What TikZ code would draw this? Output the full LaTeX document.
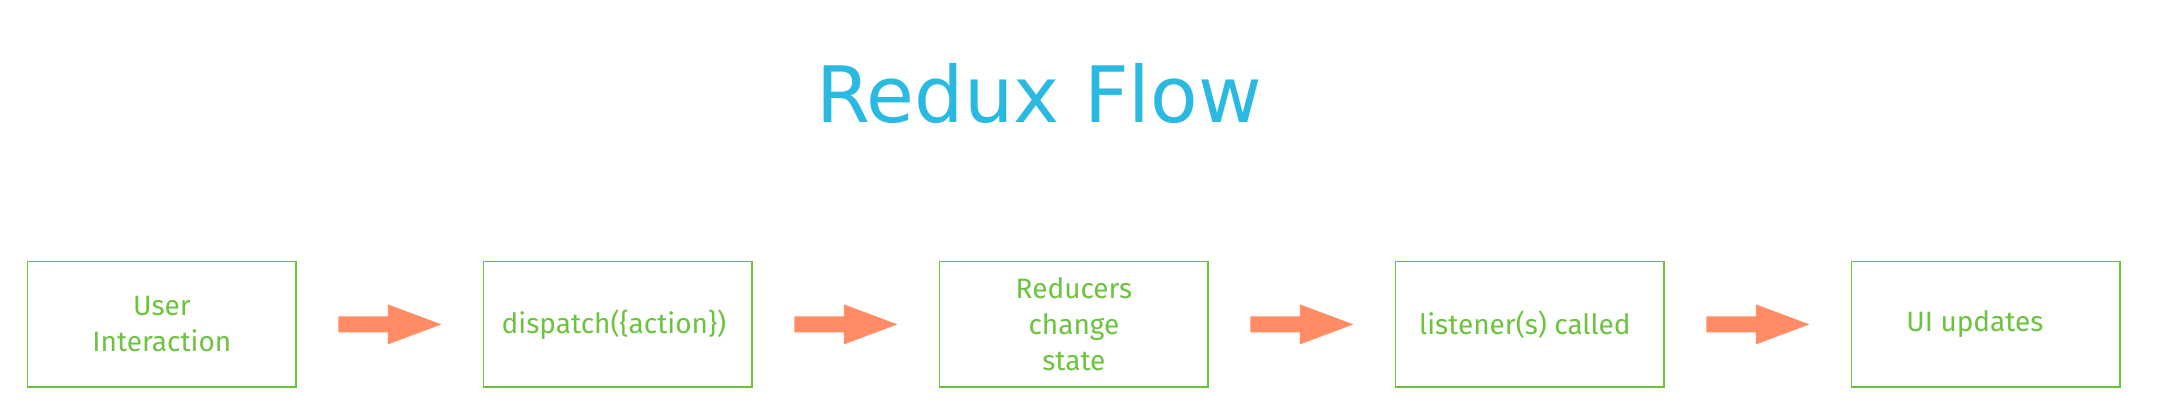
\documentclass[tikz,border=0pt]{standalone}
\usepackage{fontspec}
\setmainfont{Fira Sans}
\newfontfamily\titlefont{DejaVu Sans}
\usetikzlibrary{positioning, calc}
\definecolor{flowgreen}{RGB}{108,195,62}
\definecolor{flowarrow}{RGB}{255,140,100}
\definecolor{flowtitle}{RGB}{42,185,226}
% block arrow centred in the gap between two boxes
\newcommand{\blockarrow}[2]{%
  \fill[flowarrow] ($(#1.east)!0.5!(#2.west)+(-51.5pt,-8pt)$) -- ++(49.5pt,0) -- ++(0,-12pt)
    -- ++(53.5pt,20pt) -- ++(-53.5pt,20pt) -- ++(0,-12pt) -- ++(-49.5pt,0) -- cycle;}

\begin{document}
\begin{tikzpicture}[x=1pt, y=1pt,
  box/.style={draw=flowgreen, line width=1.5pt, minimum width=268.6pt, minimum height=125.4pt,
    inner sep=0pt, outer sep=0pt, align=center, text=flowgreen, font=\fontsize{28}{36}\selectfont}]
\useasboundingbox (0,0) rectangle (2160,420);
\node[anchor=base, text=flowtitle, font=\titlefont\fontsize{77.8}{94}\selectfont] (title) at (1039,297.3) {Redux Flow};
\node[box] (user) at (161.9,95.6) {User\\Interaction};
\node[box, right=187.4pt of user] (dispatch) {dispatch(\{action\})\hspace*{8pt}};
\node[box, right=187.4pt of dispatch] (reducers) {Reducers\\change\\state};
\node[box, right=187.4pt of reducers] (listeners) {listener(s) called\hspace*{10pt}};
\node[box, right=187.4pt of listeners] (ui) {UI updates\hspace*{22pt}};
\blockarrow{user}{dispatch}
\blockarrow{dispatch}{reducers}
\blockarrow{reducers}{listeners}
\blockarrow{listeners}{ui}
\end{tikzpicture}
\end{document}
